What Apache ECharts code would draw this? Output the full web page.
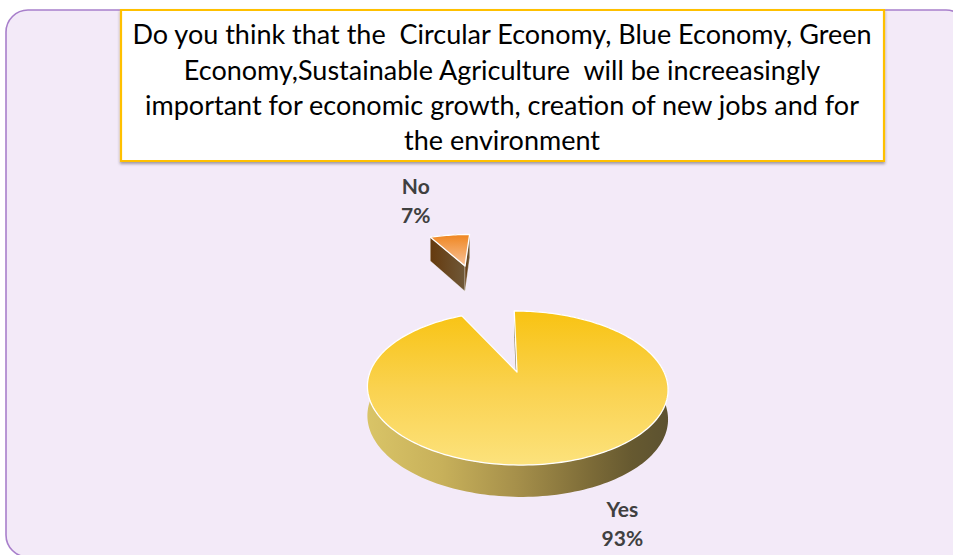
<!DOCTYPE html>
<html>
<head>
<meta charset="utf-8">
<title>Survey: importance of the new economies</title>
<script src="https://cdn.jsdelivr.net/npm/echarts@6/dist/echarts.min.js"></script>
<style>
  html, body { margin: 0; padding: 0; background: #ffffff; overflow: hidden; }
  #chart { width: 953px; height: 555px; }
</style>
</head>
<body>
<div id="chart"></div>
<script>
// ---- data ----
const categories = ['Yes', 'No'];
const shares = [93, 7];
const questionLines = [
  'Do you think that the \u00a0Circular Economy, Blue Economy, Green',
  'Economy,Sustainable Agriculture \u00a0will be increeasingly',
  'important for economic growth, creation of new jobs and for',
  'the environment'
];

// ---- layout of the tilted pie (perspective projection) ----
const VIEW = {
  vanishX: 501,   // x the receding lines converge to
  centerX: 517,   // screen x of the pie centre
  centerY: 372,   // screen y of the pie centre
  rx: 147,        // horizontal radius at the centre plane
  ry: 73.7,       // depth radius at the centre plane
  k: 0.208,       // perspective strength
  depth: 29       // thickness of the pie
};
const EXPLODE = { No: 2.1 };
const LABEL_SHIFT = { Yes: [61, 61], No: [-34, -35] };

function project(u, v, z) {
  const s = 1 / (1 + VIEW.k * v);
  const x = VIEW.vanishX + (VIEW.centerX - VIEW.vanishX + VIEW.rx * u) * s;
  const y = VIEW.centerY - VIEW.ry * v * s + VIEW.depth * z * Math.pow(s, 0.4);
  return [x, y];
}

const STYLE = {
  Yes: {
    top: new echarts.graphic.LinearGradient(0, 0, 0, 1, [
      { offset: 0, color: '#f8c312' },
      { offset: 0.5, color: '#fad24f' },
      { offset: 1, color: '#fce27c' }
    ]),
    side: new echarts.graphic.LinearGradient(0, 0, 1, 0, [
      { offset: 0, color: '#d9c467' },
      { offset: 0.25, color: '#c7b05a' },
      { offset: 0.5, color: '#a58f4a' },
      { offset: 0.75, color: '#7b6a37' },
      { offset: 0.88, color: '#665930' },
      { offset: 1, color: '#5c5230' }
    ]),
    cut: '#5e4f22'
  },
  No: {
    top: new echarts.graphic.LinearGradient(0, 0, 0, 1, [
      { offset: 0, color: '#ef8620' },
      { offset: 1, color: '#f8c39a' }
    ]),
    side: '#6a4a22',
    cut: new echarts.graphic.LinearGradient(0, 0, 1, 0, [
      { offset: 0, color: '#653a0e' },
      { offset: 1, color: '#6f5838' }
    ])
  }
};

const total = shares.reduce((a, b) => a + b, 0);

function renderSlice(params, api) {
  const i = params.dataIndex;
  const name = categories[i];
  const value = api.value(1);
  let before = 0;
  for (let j = 0; j < i; j++) before += shares[j];
  const t0 = before / total * Math.PI * 2;
  const t1 = (before + value) / total * Math.PI * 2;
  const mid = (t0 + t1) / 2;
  const e = EXPLODE[name] || 0;
  const eu = e * Math.sin(mid);
  const ev = e * Math.cos(mid);

  const steps = Math.max(6, Math.ceil((t1 - t0) / (Math.PI * 2) * 240));
  const arcTop = [];
  const arcBot = [];
  for (let k = 0; k <= steps; k++) {
    const t = t0 + (t1 - t0) * k / steps;
    const u = eu + Math.sin(t);
    const v = ev + Math.cos(t);
    arcTop.push(project(u, v, 0));
    arcBot.push(project(u, v, 1));
  }
  const apexTop = project(eu, ev, 0);
  const apexBot = project(eu, ev, 1);
  const st = STYLE[name];
  const last = arcTop.length - 1;

  // label anchored at the middle of the slice's rim
  const mu = eu + Math.sin(mid);
  const mv = ev + Math.cos(mid);
  const anchor = project(mu, mv, 0);
  const shift = LABEL_SHIFT[name];

  return {
    type: 'group',
    children: [
      {
        type: 'polygon',
        shape: { points: arcTop.concat(arcBot.slice().reverse()) },
        style: { fill: st.side }
      },
      {
        type: 'polygon',
        shape: { points: [apexTop, arcTop[0], arcBot[0], apexBot] },
        style: { fill: st.cut, stroke: 'rgba(255,255,255,0.6)', lineWidth: 0.6 }
      },
      {
        type: 'polygon',
        shape: { points: [apexTop, arcTop[last], arcBot[last], apexBot] },
        style: { fill: st.cut, stroke: 'rgba(255,255,255,0.6)', lineWidth: 0.6 }
      },
      {
        type: 'polygon',
        shape: { points: [apexTop].concat(arcTop) },
        style: { fill: st.top, stroke: '#ffffff', lineWidth: 1.3, lineJoin: 'round' }
      },
      {
        type: 'text',
        x: anchor[0] + shift[0],
        y: anchor[1] + shift[1],
        style: {
          text: name + '\n' + value + '%',
          fill: '#404040',
          font: 'bold 21px Lato',
          lineHeight: 29,
          align: 'center',
          verticalAlign: 'middle'
        }
      }
    ]
  };
}

const chart = echarts.init(document.getElementById('chart'), null, { renderer: 'svg' });

chart.setOption({
  animation: false,
  title: {
    text: questionLines.join('\n'),
    left: 502,
    top: 16,
    padding: 0,
    textAlign: 'center',
    textStyle: {
      fontFamily: 'Lato',
      fontWeight: 'normal',
      fontSize: 27,
      lineHeight: 35.4,
      color: '#000000'
    },
    z: 10
  },
  graphic: [
    {
      type: 'rect',
      z: 0,
      shape: { x: 6, y: 10, width: 962, height: 547, r: 22 },
      style: { fill: '#f3eaf8', stroke: '#a87fcb', lineWidth: 1.6 }
    },
    {
      type: 'rect',
      z: 1,
      shape: { x: 121, y: 10, width: 763, height: 151 },
      style: {
        fill: '#ffffff',
        stroke: '#ffc000',
        lineWidth: 2.2,
        shadowColor: 'rgba(0,0,0,0.35)',
        shadowBlur: 3,
        shadowOffsetY: 2
      }
    }
  ],
  series: [
    {
      type: 'custom',
      coordinateSystem: 'none',
      z: 3,
      data: categories.map((c, i) => [i, shares[i]]),
      renderItem: renderSlice
    }
  ]
});
</script>
</body>
</html>
